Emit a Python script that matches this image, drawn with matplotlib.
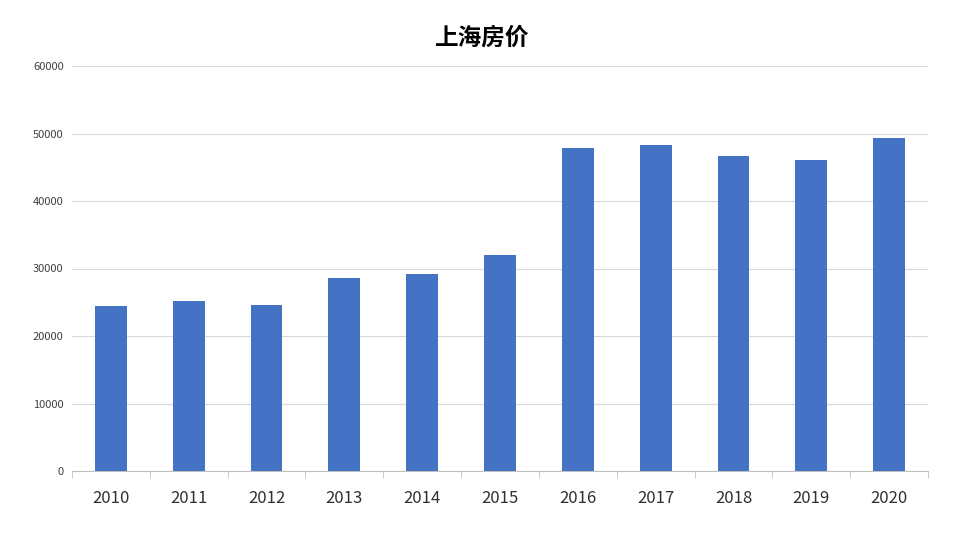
import matplotlib
matplotlib.use("Agg")
import matplotlib.pyplot as plt
import numpy as np

plt.rcParams["font.family"] = ["Noto Sans CJK SC", "DejaVu Sans"]

years = ["2010", "2011", "2012", "2013", "2014", "2015", "2016", "2017", "2018", "2019", "2020"]
prices = [24500, 25200, 24600, 28600, 29200, 32000, 47900, 48300, 46600, 46100, 49300]

fig = plt.figure(figsize=(9.64, 5.4), dpi=100)
ax = fig.add_axes([72 / 964, 1 - 471 / 540, (928 - 72) / 964, (471 - 66) / 540])

x = np.arange(len(years))
ax.bar(x, prices, width=0.41, color="#4472C4", zorder=3)

ax.set_xlim(-0.5, len(years) - 0.5)
ax.set_ylim(0, 60000)
ax.set_yticks(np.arange(0, 60001, 10000))
ax.tick_params(axis="y", length=0, labelsize=8, colors="#404040", pad=6)
ax.set_xticks(x)
ax.set_xticklabels(years, fontsize=12, color="#303030")
ax.set_xticks(np.arange(-0.5, len(years), 1), minor=True)
ax.tick_params(axis="x", which="major", length=0, pad=14)
ax.tick_params(axis="x", which="minor", length=5, color="#bfbfbf")
ax.grid(axis="y", color="#d9d9d9", linewidth=0.8, zorder=0)
for side in ["top", "right", "left"]:
    ax.spines[side].set_visible(False)
ax.spines["bottom"].set_color("#bfbfbf")

fig.text(0.5, 1 - 38 / 540, "上海房价", ha="center", va="center", fontsize=17, fontweight="bold")

fig.savefig("out.png", dpi=100, facecolor="white")
